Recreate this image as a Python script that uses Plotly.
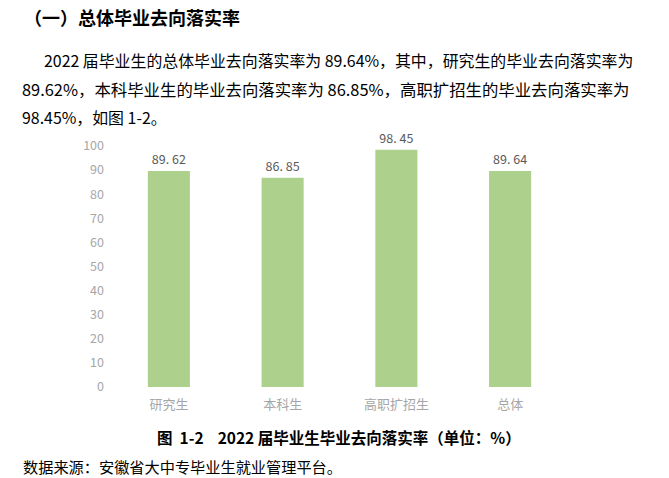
import plotly.graph_objects as go

categories = ["研究生", "本科生", "高职扩招生", "总体"]
values = [89.62, 86.85, 98.45, 89.64]
y_ticks = [0, 10, 20, 30, 40, 50, 60, 70, 80, 90, 100]

heading = "（一）总体毕业去向落实率"
para_lines = [
    "2022 届毕业生的总体毕业去向落实率为 89.64%，其中，研究生的毕业去向落实率为",
    "89.62%，本科毕业生的毕业去向落实率为 86.85%，高职扩招生的毕业去向落实率为",
    "98.45%，如图 1-2。",
]
caption = "图  1-2    2022 届毕业生毕业去向落实率（单位：%）"
source = "数据来源：安徽省大中专毕业生就业管理平台。"

W, H = 669, 478
PL, PR, PT, PB = 112, 567, 146, 387  # plot area in screen pixels
ML, MR, MT, MB = PL, W - PR, PT, H - PB

FONT = "Noto Sans CJK SC, Noto Sans, sans-serif"

labels = [f"{v:.2f}".replace(".", ". ") for v in values]

fig = go.Figure(
    go.Bar(
        x=categories,
        y=values,
        text=labels,
        textposition="outside",
        textfont=dict(size=12.5, color="#595959", family=FONT),
        marker=dict(color="#ADD18C", line=dict(width=0)),
        cliponaxis=False,
        hoverinfo="skip",
    )
)

fig.update_layout(
    width=W,
    height=H,
    margin=dict(l=ML, r=MR, t=MT, b=MB, autoexpand=False),
    paper_bgcolor="white",
    plot_bgcolor="white",
    bargap=0.63,
    showlegend=False,
    font=dict(family=FONT),
    xaxis=dict(
        showgrid=False,
        showline=False,
        zeroline=False,
        ticks="",
        ticklabelstandoff=8,
        tickfont=dict(size=13, color="#A6A6A6", family=FONT),
    ),
    yaxis=dict(
        range=[0, 100],
        tickvals=y_ticks,
        showgrid=False,
        showline=False,
        zeroline=False,
        ticks="",
        ticklabelstandoff=7,
        tickfont=dict(size=12.5, color="#A6A6A6", family=FONT),
    ),
)

def px_x(p):
    return (p - PL) / (PR - PL)

def px_y(p):
    return (PB - p) / (PB - PT)

ann = []
ann.append(dict(text=f"<b>{heading}</b>", x=px_x(22), y=px_y(17.5), xref="paper", yref="paper",
                xanchor="left", yanchor="middle", showarrow=False,
                font=dict(size=18, color="#000000", family=FONT)))
line_x = [42, 20, 20]
line_y = [61, 89, 117]
line_sz = [15.9, 16.4, 15.9]
for t, lx, ly, sz in zip(para_lines, line_x, line_y, line_sz):
    ann.append(dict(text=t, x=px_x(lx), y=px_y(ly), xref="paper", yref="paper",
                    xanchor="left", yanchor="middle", showarrow=False,
                    font=dict(size=sz, color="#000000", family=FONT)))
ann.append(dict(text=f"<b>{caption}</b>", x=px_x(339), y=px_y(437), xref="paper", yref="paper",
                xanchor="center", yanchor="middle", showarrow=False,
                font=dict(size=15.5, color="#000000", family=FONT)))
ann.append(dict(text=source, x=px_x(21), y=px_y(466), xref="paper", yref="paper",
                xanchor="left", yanchor="middle", showarrow=False,
                font=dict(size=15.2, color="#000000", family=FONT)))
fig.update_layout(annotations=ann)

fig.write_html(
    "out.html",
    config={"displayModeBar": False},
    post_script="document.body.style.margin='0';document.body.style.overflow='hidden';",
)
